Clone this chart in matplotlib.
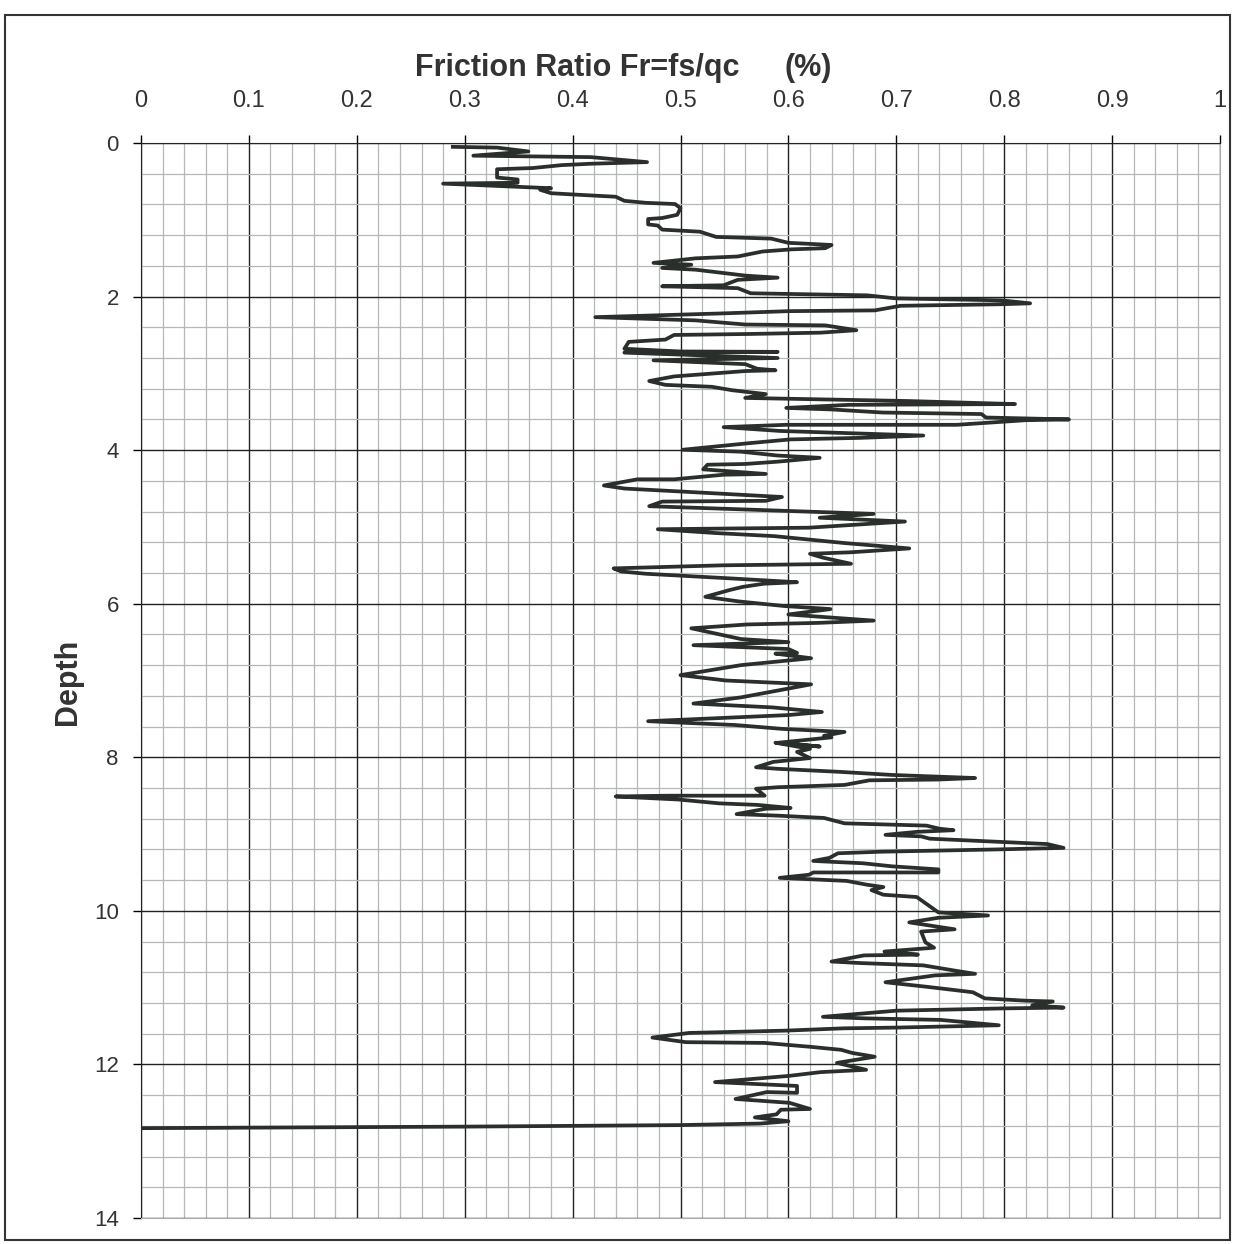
import numpy as np
import matplotlib.pyplot as plt
from matplotlib.patches import Rectangle

# Friction ratio trace (Fr in %, depth)
fr = [0.289, 0.33, 0.359, 0.308, 0.417, 0.469, 0.417, 0.39, 0.363, 0.33,
      0.33, 0.349, 0.349, 0.28, 0.38, 0.37, 0.38, 0.40, 0.44, 0.448,
      0.468, 0.495, 0.50, 0.497, 0.483, 0.47, 0.47, 0.479, 0.483, 0.518,
      0.533, 0.584, 0.60, 0.64, 0.634, 0.603, 0.576, 0.553, 0.514, 0.475,
      0.51, 0.483, 0.514, 0.56, 0.59, 0.553, 0.54, 0.483, 0.553, 0.565,
      0.673, 0.70, 0.797, 0.824, 0.797, 0.704, 0.68, 0.60, 0.537, 0.421,
      0.514, 0.56, 0.634, 0.663, 0.63, 0.564, 0.494, 0.486, 0.452,
      0.448, 0.50, 0.59, 0.448, 0.59, 0.475, 0.56, 0.571, 0.588, 0.56,
      0.494, 0.471, 0.486, 0.529, 0.548, 0.579, 0.56, 0.598, 0.71, 0.81,
      0.656, 0.598, 0.64, 0.687, 0.779, 0.783, 0.86, 0.82, 0.756, 0.598,
      0.54, 0.592, 0.725, 0.667, 0.602, 0.563, 0.502, 0.556, 0.59, 0.629,
      0.59, 0.56, 0.525, 0.521, 0.579, 0.54, 0.494, 0.46, 0.429, 0.448,
      0.502, 0.594, 0.579, 0.483, 0.471, 0.575, 0.679, 0.629, 0.708, 0.619,
      0.479, 0.533, 0.587, 0.652, 0.712, 0.658, 0.62, 0.632, 0.658, 0.539,
      0.438, 0.445, 0.468, 0.546, 0.608, 0.577, 0.558, 0.546, 0.523, 0.554,
      0.596, 0.639, 0.60, 0.679, 0.627, 0.562, 0.51, 0.533, 0.556, 0.60,
      0.512, 0.60, 0.608, 0.588, 0.621, 0.556, 0.50, 0.542, 0.621, 0.598,
      0.556, 0.512, 0.585, 0.631, 0.60, 0.47, 0.551, 0.594, 0.652, 0.633,
      0.64, 0.591, 0.629, 0.588, 0.62, 0.608, 0.62, 0.586, 0.57, 0.59,
      0.648, 0.696, 0.773, 0.738, 0.675, 0.652, 0.59, 0.57, 0.578, 0.49,
      0.44, 0.498, 0.536, 0.571, 0.602, 0.579, 0.552, 0.59, 0.633, 0.652,
      0.728, 0.74, 0.753, 0.72, 0.69, 0.723, 0.731, 0.84, 0.855, 0.793,
      0.685, 0.646, 0.638, 0.623, 0.669, 0.696, 0.739, 0.739, 0.623, 0.619,
      0.592, 0.654, 0.673, 0.688, 0.677, 0.688, 0.719, 0.729, 0.739, 0.785,
      0.739, 0.712, 0.754, 0.723, 0.727, 0.735, 0.689, 0.72, 0.67, 0.64,
      0.667, 0.725, 0.755, 0.773, 0.736, 0.69, 0.729, 0.771, 0.782, 0.82,
      0.845, 0.826, 0.855, 0.80, 0.70, 0.632, 0.671, 0.741, 0.795, 0.701,
      0.651, 0.597, 0.508, 0.474, 0.505, 0.578, 0.62, 0.649, 0.659, 0.68,
      0.645, 0.672, 0.63, 0.60, 0.532, 0.608, 0.608, 0.58, 0.551, 0.601,
      0.62, 0.593, 0.589, 0.569, 0.60, 0.574, 0.50, 0.40, 0.30, 0.0]

depth = [0.05, 0.06, 0.11, 0.165, 0.184, 0.249, 0.27, 0.288, 0.326, 0.342,
         0.45, 0.475, 0.518, 0.529, 0.589, 0.61, 0.654, 0.67, 0.70, 0.753,
         0.779, 0.795, 0.849, 0.935, 0.977, 0.99, 1.06, 1.075, 1.128, 1.155,
         1.223, 1.245, 1.30, 1.328, 1.37, 1.385, 1.413, 1.478, 1.502, 1.561,
         1.585, 1.627, 1.65, 1.727, 1.754, 1.782, 1.853, 1.866, 1.89, 1.957,
         1.984, 2.024, 2.049, 2.088, 2.10, 2.12, 2.18, 2.19, 2.22, 2.268,
         2.31, 2.364, 2.375, 2.438, 2.47, 2.487, 2.50, 2.56, 2.59,
         2.68, 2.715, 2.72, 2.73, 2.80, 2.83, 2.88, 2.94, 2.96, 2.97,
         3.04, 3.10, 3.15, 3.175, 3.22, 3.27, 3.32, 3.33, 3.36, 3.40,
         3.41, 3.45, 3.47, 3.51, 3.53, 3.575, 3.60, 3.61, 3.67, 3.67,
         3.70, 3.75, 3.81, 3.84, 3.86, 3.91, 3.995, 4.02, 4.07, 4.10,
         4.15, 4.18, 4.19, 4.25, 4.31, 4.32, 4.38, 4.38, 4.46, 4.50,
         4.54, 4.61, 4.66, 4.67, 4.73, 4.78, 4.83, 4.88, 4.93, 5.01,
         5.03, 5.08, 5.12, 5.21, 5.28, 5.33, 5.35, 5.40, 5.48, 5.50,
         5.54, 5.58, 5.61, 5.67, 5.72, 5.74, 5.78, 5.82, 5.91, 5.97,
         6.03, 6.07, 6.14, 6.22, 6.25, 6.27, 6.32, 6.39, 6.46, 6.50,
         6.54, 6.59, 6.64, 6.65, 6.71, 6.80, 6.93, 7.00, 7.05, 7.11,
         7.22, 7.30, 7.35, 7.41, 7.45, 7.53, 7.58, 7.63, 7.67, 7.72,
         7.74, 7.81, 7.86, 7.81, 7.89, 7.93, 8.01, 8.06, 8.13, 8.15,
         8.19, 8.23, 8.27, 8.29, 8.30, 8.36, 8.39, 8.41, 8.50, 8.50,
         8.51, 8.55, 8.60, 8.62, 8.66, 8.67, 8.74, 8.76, 8.79, 8.86,
         8.89, 8.93, 8.95, 8.97, 9.01, 9.03, 9.06, 9.13, 9.18, 9.20,
         9.23, 9.25, 9.31, 9.35, 9.38, 9.42, 9.46, 9.50, 9.50, 9.53,
         9.57, 9.61, 9.66, 9.69, 9.73, 9.79, 9.82, 9.92, 10.02, 10.06,
         10.09, 10.15, 10.24, 10.27, 10.41, 10.48, 10.53, 10.57, 10.58, 10.66,
         10.68, 10.71, 10.78, 10.82, 10.84, 10.93, 10.99, 11.06, 11.14, 11.17,
         11.18, 11.23, 11.26, 11.27, 11.30, 11.38, 11.40, 11.42, 11.49, 11.52,
         11.53, 11.56, 11.59, 11.65, 11.71, 11.72, 11.77, 11.81, 11.85, 11.90,
         11.98, 12.07, 12.10, 12.15, 12.23, 12.28, 12.37, 12.36, 12.45, 12.50,
         12.58, 12.59, 12.65, 12.69, 12.74, 12.77, 12.79, 12.80, 12.81, 12.83]

x_ticks = np.arange(0, 1.01, 0.1)
x_labels = ['0', '0.1', '0.2', '0.3', '0.4', '0.5', '0.6', '0.7', '0.8', '0.9', '1']
y_ticks = np.arange(0, 15, 2)
y_labels = [str(v) for v in y_ticks]

plt.rcParams['font.family'] = ['Liberation Sans', 'DejaVu Sans']

fig = plt.figure(figsize=(12.43, 12.44), dpi=100)
ax = fig.add_axes([141 / 1243, 1 - 1218 / 1244, 1079 / 1243, 1075 / 1244])

ax.plot(fr, depth, color='#2a2f2c', lw=2.7, solid_joinstyle='round', zorder=3)

ax.set_xlim(0, 1)
ax.set_ylim(14, 0)
ax.xaxis.tick_top()
ax.set_xticks(x_ticks)
ax.set_xticklabels(x_labels)
ax.set_yticks(y_ticks)
ax.set_yticklabels(y_labels)
ax.set_xticks(np.arange(0, 1.001, 0.02), minor=True)
ax.set_yticks(np.arange(0, 14.01, 0.4), minor=True)

ax.grid(which='major', color='#222222', lw=1.0)
ax.grid(which='minor', color='#b4b8b6', lw=0.9)
ax.set_axisbelow(True)

ax.tick_params(axis='x', which='major', length=6, width=1, pad=16, labelsize=17,
               top=True, bottom=False, labelcolor='#333333')
ax.tick_params(axis='y', which='major', length=6, width=1, pad=10, labelsize=16,
               labelcolor='#333333')
ax.tick_params(which='minor', length=0)

for side in ['top', 'left']:
    ax.spines[side].set_color('#222222')
for side in ['right', 'bottom']:
    ax.spines[side].set_color('#a8acaa')

fig.text(415 / 1243, 1 - 68 / 1244, 'Friction Ratio Fr=fs/qc',
         fontsize=22, fontweight='bold', color='#333333', ha='left', va='center')
fig.text(785 / 1243, 1 - 68 / 1244, '(%)',
         fontsize=22, fontweight='bold', color='#333333', ha='left', va='center')
fig.text(68 / 1243, 1 - 682 / 1244, 'Depth', rotation=90,
         fontsize=22, fontweight='bold', color='#333333', ha='center', va='center')

# frame around the whole chart
fig.patches.append(Rectangle((5 / 1243, 1 - 1240 / 1244), 1225 / 1243, 1225 / 1244,
                             transform=fig.transFigure, fill=False,
                             edgecolor='#333333', lw=1.5))

fig.savefig('out.png', dpi=100)
